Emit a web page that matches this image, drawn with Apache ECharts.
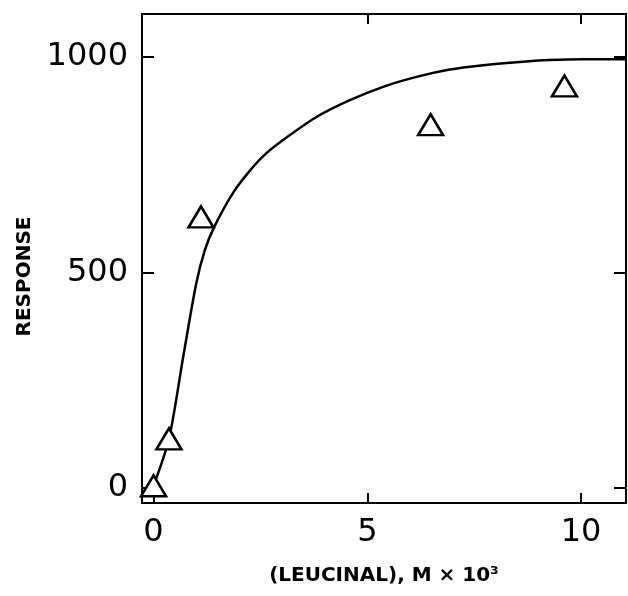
<!DOCTYPE html>
<html>
<head>
<meta charset="utf-8">
<script src="https://cdn.jsdelivr.net/npm/echarts@6/dist/echarts.min.js"></script>
<style>
  html, body { margin: 0; padding: 0; background: #fff; }
  #chart { width: 628px; height: 596px; }
</style>
</head>
<body>
<div id="chart"></div>
<script>
// 数据点 (三角形)
var pointX = [0, 0.36, 1.11, 6.48, 9.61];
var pointY = [5, 114, 629, 843, 933];

// 拟合曲线
var curveX = [0, 0.36, 0.70, 1.00, 1.20, 1.42, 1.86, 2.25, 2.64, 3.19, 3.81, 4.59, 5.37, 6.15, 6.93, 7.71, 8.49, 9.26, 10.04, 11.06];
var curveY = [5, 114, 308, 475, 552, 606, 685, 736, 777, 819, 861, 900, 931, 954, 971, 981, 988, 993, 995, 995];

var xTicks = [0, 5, 10];
var yTicks = [0, 500, 1000];

var points = pointX.map(function (x, i) { return [x, pointY[i]]; });
var curve = curveX.map(function (x, i) { return [x, curveY[i]]; });

var myChart = echarts.init(document.getElementById('chart'));

var axisLineStyle = { color: '#000', width: 2 };
var tickFont = { color: '#000', fontSize: 32, fontFamily: 'DejaVu Sans' };
var nameFont = { color: '#000', fontSize: 20, fontWeight: 'bold', fontFamily: 'DejaVu Sans' };

var option = {
    animation: false,
    backgroundColor: '#fff',
    grid: {
        left: 142,
        right: 2,
        top: 14,
        bottom: 93,
        show: true,
        borderColor: '#000',
        borderWidth: 2
    },
    xAxis: [{
        type: 'value',
        min: -0.27,
        max: 11.05,
        position: 'bottom',
        name: '(LEUCINAL), M × 10³',
        nameLocation: 'middle',
        nameGap: 63,
        nameTextStyle: nameFont,
        axisLine: { onZero: false, lineStyle: axisLineStyle },
        axisTick: { inside: true, length: 10, lineStyle: axisLineStyle, customValues: xTicks },
        axisLabel: Object.assign({ margin: 14, customValues: xTicks, formatter: '{value}' }, tickFont),
        splitLine: { show: false }
    }, {
        type: 'value',
        min: -0.27,
        max: 11.05,
        position: 'top',
        axisLine: { onZero: false, lineStyle: axisLineStyle },
        axisTick: { inside: true, length: 10, lineStyle: axisLineStyle, customValues: [5, 10] },
        axisLabel: { show: false },
        splitLine: { show: false }
    }],
    yAxis: [{
        type: 'value',
        min: -35,
        max: 1100,
        position: 'left',
        name: 'RESPONSE',
        nameLocation: 'middle',
        nameGap: 107,
        nameTextStyle: Object.assign({ padding: [0, 36, 0, 0] }, nameFont),
        axisLine: { onZero: false, lineStyle: axisLineStyle },
        axisTick: { inside: true, length: 12, lineStyle: axisLineStyle, customValues: yTicks },
        axisLabel: Object.assign({
            margin: 14,
            customValues: yTicks,
            formatter: function (v) { return String(v); }
        }, tickFont),
        splitLine: { show: false }
    }, {
        type: 'value',
        min: -35,
        max: 1100,
        position: 'right',
        axisLine: { onZero: false, lineStyle: axisLineStyle },
        axisTick: { inside: true, length: 12, lineStyle: axisLineStyle, customValues: yTicks },
        axisLabel: { show: false },
        splitLine: { show: false }
    }],
    series: [{
        name: 'curve',
        type: 'line',
        data: curve,
        smooth: 0.3,
        showSymbol: false,
        lineStyle: { color: '#000', width: 2.5 },
        z: 2
    }, {
        name: 'points',
        type: 'scatter',
        data: points,
        symbol: 'triangle',
        symbolSize: [25, 21],
        itemStyle: { color: '#fff', borderColor: '#000', borderWidth: 2.5, opacity: 1 },
        z: 3
    }]
};

myChart.setOption(option);
</script>
</body>
</html>
